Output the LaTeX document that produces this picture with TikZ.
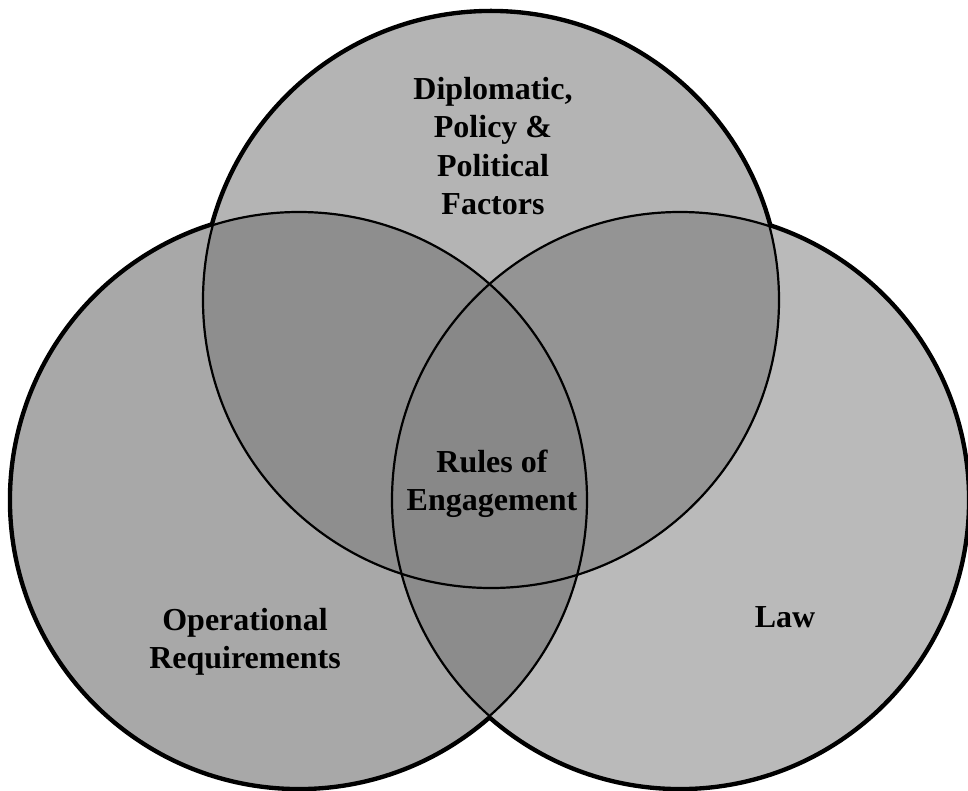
\documentclass[tikz,border=0pt]{standalone}
\usepackage{fontspec}
\setmainfont{Liberation Serif}
\begin{document}
\begin{tikzpicture}[x=1pt,y=-1pt,
  lbl/.style={font=\fontsize{32}{38.5}\selectfont\bfseries, align=center, inner sep=0pt, text=black},
  innerline/.style={draw=black, line width=2.2pt},
  outerline/.style={draw=black, line width=6.5pt}]
\useasboundingbox (0,0) rectangle (968,791);
\def\R{288}
\coordinate (T) at (491,300);
\coordinate (L) at (299,500);
\coordinate (Rc) at (680,500);
% thick outer strokes (inner halves get covered by fills)
\draw[outerline] (T) circle (\R);
\draw[outerline] (L) circle (\R);
\draw[outerline] (Rc) circle (\R);
% single regions
\fill[fill={rgb,255:red,180;green,180;blue,180}] (T) circle (\R);
\fill[fill={rgb,255:red,168;green,168;blue,168}] (L) circle (\R);
\fill[fill={rgb,255:red,186;green,186;blue,186}] (Rc) circle (\R);
% pairwise
\begin{scope}
  \clip (T) circle (\R);
  \fill[fill={rgb,255:red,142;green,142;blue,142}] (L) circle (\R);
\end{scope}
\begin{scope}
  \clip (T) circle (\R);
  \fill[fill={rgb,255:red,148;green,148;blue,148}] (Rc) circle (\R);
\end{scope}
\begin{scope}
  \clip (L) circle (\R);
  \fill[fill={rgb,255:red,140;green,140;blue,140}] (Rc) circle (\R);
\end{scope}
\begin{scope}
  \clip (L) circle (\R);
  \clip (Rc) circle (\R);
  \fill[fill={rgb,255:red,136;green,136;blue,136}] (T) circle (\R);
\end{scope}
% inner lines
\draw[innerline] (T) circle (\R);
\draw[innerline] (L) circle (\R);
\draw[innerline] (Rc) circle (\R);
% labels
\node[lbl] (dip) at (493,146) {Diplomatic,\\Policy \&\\Political\\Factors};
\node[lbl] (roe) at (492,484) {Rules of\\Engagement};
\node[lbl] (ops) at (245,642) {Operational\\Requirements};
\node[lbl] (law) at (785,617) {Law};
\end{tikzpicture}
\end{document}
